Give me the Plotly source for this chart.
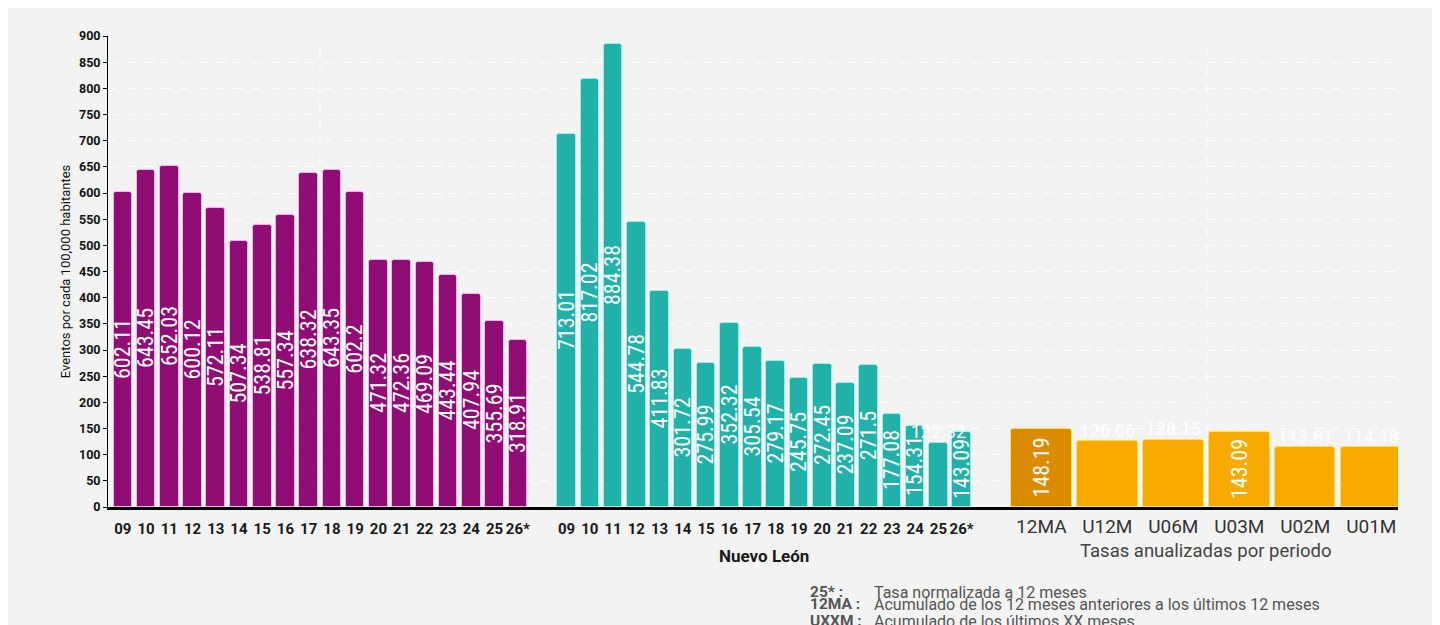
import plotly.graph_objects as go

# ---------------- data ----------------
years = ["09", "10", "11", "12", "13", "14", "15", "16", "17",
         "18", "19", "20", "21", "22", "23", "24", "25", "26*"]
national_rates = [602.11, 643.45, 652.03, 600.12, 572.11, 507.34, 538.81, 557.34, 638.32,
                  643.35, 602.2, 471.32, 472.36, 469.09, 443.44, 407.94, 355.69, 318.91]
nl_rates = [713.01, 817.02, 884.38, 544.78, 411.83, 301.72, 275.99, 352.32, 305.54,
            279.17, 245.75, 272.45, 237.09, 271.5, 177.08, 154.31, 122.32, 143.09]
periods = ["12MA", "U12M", "U06M", "U03M", "U02M", "U01M"]
period_rates = [148.19, 126.06, 128.15, 143.09, 113.81, 114.18]

# ---------------- layout constants ----------------
PURPLE, PURPLE_LINE = "#8F0D74", "#F2B3E4"
TEAL, TEAL_LINE = "#22B1A9", "#96F0E9"
ORANGE, ORANGE_DARK, ORANGE_LINE = "#F8AA00", "#DA8B00", "#FFE24A"
BG = "#F3F3F3"
LABEL_FONT = "Roboto Condensed, Liberation Sans Narrow, Arial Narrow, Roboto"
INSIDE_MIN = 140  # labels of shorter bars go above the bar, horizontally

x_nat = [i for i in range(len(years))]
x_nl = [19.1 + i for i in range(len(years))]
x_per = [39.53 + 2.84 * i for i in range(len(periods))]

def inside_text(vals):
    return [str(v) if v >= INSIDE_MIN else "" for v in vals]

def outside_pts(xs, vals):
    pts = [(x, v) for x, v in zip(xs, vals) if v < INSIDE_MIN]
    return [p[0] for p in pts], [p[1] for p in pts], [str(p[1]) for p in pts]

fig = go.Figure()

bar_common = dict(textposition="inside", insidetextanchor="middle", textangle=-90,
                  insidetextfont=dict(color="white", size=22, family=LABEL_FONT),
                  hoverinfo="skip", showlegend=False)

fig.add_trace(go.Bar(x=x_nat, y=national_rates, width=0.8, text=inside_text(national_rates),
                     marker=dict(color=PURPLE, line=dict(color=PURPLE_LINE, width=1), cornerradius=3),
                     **bar_common))
fig.add_trace(go.Bar(x=x_nl, y=nl_rates, width=0.8, text=inside_text(nl_rates),
                     marker=dict(color=TEAL, line=dict(color=TEAL_LINE, width=1), cornerradius=3),
                     **bar_common))
per_colors = [ORANGE_DARK] + [ORANGE] * (len(periods) - 1)
fig.add_trace(go.Bar(x=x_per, y=period_rates, width=2.6, text=inside_text(period_rates),
                     marker=dict(color=per_colors, line=dict(color=ORANGE_LINE, width=1), cornerradius=3),
                     xaxis="x2", **bar_common))

# labels of short bars, drawn above them horizontally
for xs, vals, ax in [(x_nl, nl_rates, "x"), (x_per, period_rates, "x2")]:
    ox, oy, ot = outside_pts(xs, vals)
    fig.add_trace(go.Scatter(x=ox, y=oy, text=ot, mode="text", textposition="top center",
                             textfont=dict(color="white", size=18, family="Roboto"),
                             xaxis=ax, hoverinfo="skip", showlegend=False, cliponaxis=True))

XR = [-0.637, 54.88]

fig.update_layout(
    width=1429, height=640,
    margin=dict(l=100, r=39, t=28, b=141),
    paper_bgcolor=BG, plot_bgcolor=BG,
    bargap=0,
    font=dict(family="Roboto", color="#111"),
    xaxis=dict(range=XR, tickmode="array", tickvals=x_nat + x_nl, ticktext=years + years,
               tickfont=dict(size=15, family="Roboto", color="#1a1a1a", weight="bold"),
               showgrid=False, zeroline=False, showline=True, linecolor="#000", linewidth=3,
               ticks="", ticklabelstandoff=6),
    xaxis2=dict(range=XR, overlaying="x", side="bottom", tickmode="array",
                tickvals=x_per, ticktext=periods,
                tickfont=dict(size=19, family="Roboto", color="#333"),
                showgrid=False, zeroline=False, showline=False, ticks="", ticklabelstandoff=6),
    yaxis=dict(range=[0, 900], dtick=50, showline=True, linecolor="#000", linewidth=1,
               ticks="outside", ticklen=4, tickcolor="#000",
               tickfont=dict(size=12.5, family="Roboto", color="#111", weight="bold"),
               gridcolor="#FFFFFF", griddash="dash", gridwidth=1, zeroline=False,
               title=dict(text="Eventos por cada 100,000 habitantes",
                          font=dict(size=13, family="Roboto", color="#111"), standoff=5)),
)

# faint vertical guide lines
for xp in [0.1643, 0.852]:
    fig.add_shape(type="line", xref="paper", yref="y", x0=xp, x1=xp, y0=0, y1=900,
                  line=dict(color="#FFFFFF", width=1, dash="dash"), layer="below")

# group titles
fig.add_annotation(x=sum(x_nl) / len(x_nl), xref="x", y=0, yref="paper", yanchor="middle",
                   yshift=-49, text="<b>Nuevo León</b>", showarrow=False,
                   font=dict(size=17, family="Roboto", color="#1a1a1a"))
fig.add_annotation(x=sum(x_per) / len(x_per), xref="x", y=0, yref="paper", yanchor="middle",
                   yshift=-44, text="Tasas anualizadas por periodo", showarrow=False,
                   font=dict(size=18.5, family="Roboto", color="#444"))

# footnotes
notes = [("25* :", "Tasa normalizada a 12 meses"),
         ("12MA :", "Acumulado de los 12 meses anteriores a los últimos 12 meses"),
         ("UXXM :", "Acumulado de los últimos XX meses")]
shifts = [-85, -97, -114]
for (lab, desc), ys in zip(notes, shifts):
    fig.add_annotation(x=0.5426, xref="paper", xanchor="left", y=0, yref="paper",
                       yanchor="middle", yshift=ys, text="<b>" + lab + "</b>", showarrow=False,
                       font=dict(size=15.5, family="Roboto", color="#555"))
    fig.add_annotation(x=0.5922, xref="paper", xanchor="left", y=0, yref="paper",
                       yanchor="middle", yshift=ys, text=desc, showarrow=False,
                       font=dict(size=16, family="Roboto", color="#555"))

fig.update_layout(uniformtext=dict(minsize=22, mode="show"))

fig.write_html("out.html")
